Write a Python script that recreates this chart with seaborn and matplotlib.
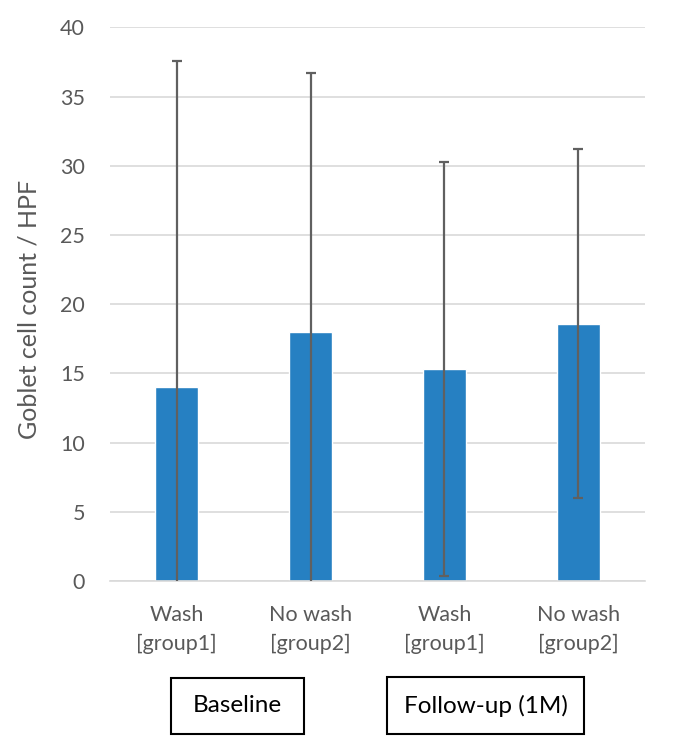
import matplotlib
matplotlib.use("Agg")
import matplotlib.pyplot as plt
from matplotlib.patches import Rectangle
import seaborn as sns
import numpy as np
import pandas as pd

# data
conditions = ["Baseline wash", "Baseline no wash", "Follow-up wash", "Follow-up no wash"]
tick_labels = ["Wash\n[group1]", "No wash\n[group2]", "Wash\n[group1]", "No wash\n[group2]"]
goblet_mean = [14.0, 18.0, 15.3, 18.6]
goblet_sd = [23.6, 18.7, 14.95, 12.6]
periods = ["Baseline", "Follow-up (1M)"]

df = pd.DataFrame({"cond": conditions, "count": goblet_mean, "sd": goblet_sd})

sns.set_theme(style="white")
plt.rcParams["font.family"] = ["Lato", "DejaVu Sans"]

W, H = 698, 752
fig = plt.figure(figsize=(W / 100, H / 100), dpi=100)
ax = fig.add_axes([110 / W, 1 - 581 / H, 535 / W, (581 - 27.3) / H])

sns.barplot(data=df, x="cond", y="count", order=conditions, color="#2680C2",
            width=0.32, errorbar=None, saturation=1, ax=ax, zorder=2)
ax.errorbar(np.arange(len(conditions)), df["count"], yerr=df["sd"], fmt="none",
            ecolor="#606060", elinewidth=1.6, capsize=3.5, capthick=1.6, zorder=3)

ax.set_ylim(0, 40)
ax.set_xlim(-0.5, 3.5)
ax.set_yticks(range(0, 41, 5))
ax.yaxis.grid(True, color="#D9D9D9", linewidth=1.2, zorder=0)
ax.set_axisbelow(True)
for s in ["top", "right", "left"]:
    ax.spines[s].set_visible(False)
ax.spines["bottom"].set_color("#D9D9D9")
ax.spines["bottom"].set_linewidth(1.2)

ax.set_xticks(range(len(conditions)))
ax.set_xticklabels(tick_labels, linespacing=1.55)
ax.tick_params(axis="both", length=0, labelsize=15.5, labelcolor="#595959")
ax.tick_params(axis="x", pad=17)
ax.tick_params(axis="y", pad=18)
ax.set_xlabel("")
ax.set_ylabel("Goblet cell count / HPF", fontsize=18, color="#595959")
ax.yaxis.set_label_coords(-0.13, 0.49)

# period boxes under the tick labels
boxes = [(171, 678, 133, 56), (387, 677, 197, 57)]
for (bx, by, bw, bh), name in zip(boxes, periods):
    fig.add_artist(Rectangle((bx / W, 1 - (by + bh) / H), bw / W, bh / H,
                             transform=fig.transFigure, fill=False,
                             edgecolor="black", linewidth=1.5))
    fig.text((bx + bw / 2) / W, 1 - (by + bh / 2) / H, name, ha="center",
             va="center", fontsize=17.5, color="black")

fig.savefig("out.png", dpi=100)
